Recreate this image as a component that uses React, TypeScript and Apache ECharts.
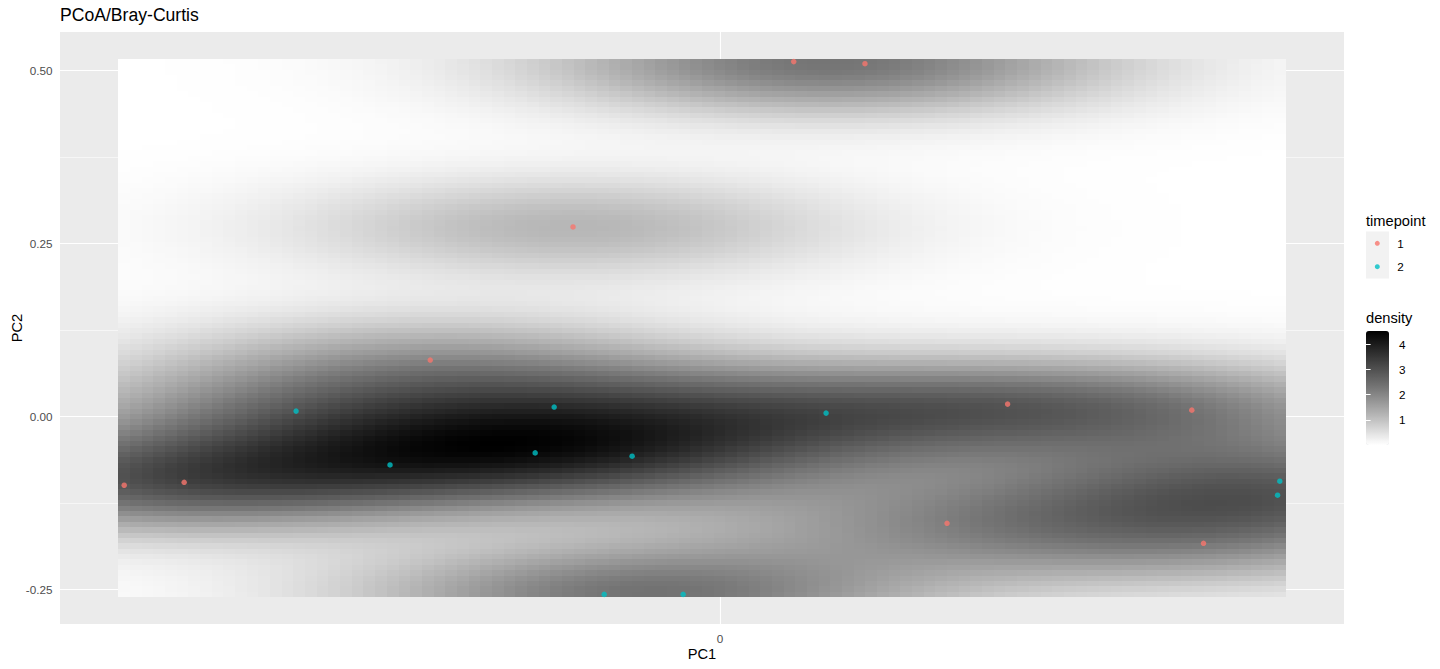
import React, { useEffect, useRef } from 'react';
import * as echarts from 'echarts';

// ---- data ----
const TITLE = 'PCoA/Bray-Curtis';
const X_NAME = 'PC1';
const Y_NAME = 'PC2';
const timepoints = ['1', '2'];
const pc1Time1 = [-0.4015, -0.3611, -0.1953, -0.0991, 0.0496, 0.0976, 0.1937, 0.3178, 0.1529, 0.3257];
const pc2Time1 = [-0.0995, -0.0952, 0.0815, 0.274, 0.513, 0.51, 0.0178, 0.0091, -0.1545, -0.1834];
const pc1Time2 = [-0.2857, -0.2224, -0.1118, -0.1246, -0.0593, 0.0714, 0.3771, 0.3756, -0.0781, -0.0249];
const pc2Time2 = [0.0077, -0.0701, 0.0135, -0.0527, -0.0575, 0.0048, -0.0937, -0.1139, -0.2573, -0.2573];
const xTicks = [0];
const yTicks = [-0.25, 0, 0.25, 0.5];
const yMinorTicks = [-0.125, 0.125, 0.375];
const densityTicks = [1, 2, 3, 4];
const GRID_N = 100;

// ---- styles ----
const FONT = 'Liberation Sans, Arial, Helvetica, sans-serif';
const POINT_COLORS = ['#F8766D', '#00BFC4'];
const GRAY_STOPS = ['#ffffff', '#b9b9b9', '#777777', '#3c3c3c', '#000000'];

// ---- stat_density_2d (MASS::kde2d with bandwidth.nrd) ----
function quantile7(sorted: number[], p: number) {
  const h = (sorted.length - 1) * p;
  const lo = Math.floor(h);
  const hi = Math.min(lo + 1, sorted.length - 1);
  return sorted[lo] + (h - lo) * (sorted[hi] - sorted[lo]);
}
function bandwidthNrd(v: number[]) {
  const s = [...v].sort((a, b) => a - b);
  const n = v.length;
  const mean = v.reduce((a, b) => a + b, 0) / n;
  const sd = Math.sqrt(v.reduce((a, b) => a + (b - mean) * (b - mean), 0) / (n - 1));
  const iqr = quantile7(s, 0.75) - quantile7(s, 0.25);
  return 4 * 1.06 * Math.min(sd, iqr / 1.34) * Math.pow(n, -0.2);
}
function kde2d(xs: number[], ys: number[], n: number) {
  const hx = bandwidthNrd(xs) / 4;
  const hy = bandwidthNrd(ys) / 4;
  const xmin = Math.min(...xs), xmax = Math.max(...xs);
  const ymin = Math.min(...ys), ymax = Math.max(...ys);
  const gx = Array.from({ length: n }, (_, i) => xmin + ((xmax - xmin) * i) / (n - 1));
  const gy = Array.from({ length: n }, (_, i) => ymin + ((ymax - ymin) * i) / (n - 1));
  const dn = (z: number) => Math.exp(-0.5 * z * z) / Math.sqrt(2 * Math.PI);
  const N = xs.length;
  const cells: number[][] = [];
  for (let i = 0; i < n; i++) {
    for (let j = 0; j < n; j++) {
      let s = 0;
      for (let k = 0; k < N; k++) s += dn((gx[i] - xs[k]) / hx) * dn((gy[j] - ys[k]) / hy);
      cells.push([gx[i], gy[j], s / (N * hx * hy)]);
    }
  }
  return {
    cells,
    cellW: (xmax - xmin) / (n - 1),
    cellH: (ymax - ymin) / (n - 1),
    xmin, xmax, ymin, ymax,
  };
}

export default function App() {
  const ref = useRef<HTMLDivElement>(null);
  useEffect(() => {
    const chart = echarts.init(ref.current!, null, { renderer: 'svg' });
    const allX = [...pc1Time1, ...pc1Time2];
    const allY = [...pc2Time1, ...pc2Time2];
    const k = kde2d(allX, allY, GRID_N);
    const dens = k.cells.map((c) => c[2]);
    const dMin = Math.min(...dens);
    const dMax = Math.max(...dens);

    // panel limits: raster extent + 5% expansion (ggplot default)
    const rx0 = k.xmin - k.cellW / 2, rx1 = k.xmax + k.cellW / 2;
    const ry0 = k.ymin - k.cellH / 2, ry1 = k.ymax + k.cellH / 2;
    const ex = (rx1 - rx0) * 0.05, ey = (ry1 - ry0) * 0.05;
    const xLim = [rx0 - ex, rx1 + ex];
    const yLim = [ry0 - ey, ry1 + ey];

    const axisText = { color: '#4D4D4D', fontSize: 11.7, fontFamily: FONT };
    const tickStyle = { color: '#333333', width: 1.07 };

    const option: any = {
      animation: false,
      backgroundColor: '#ffffff',
      textStyle: { fontFamily: FONT },
      title: [
        { text: TITLE, left: 60, top: 6, padding: 0, textStyle: { fontSize: 17.6, fontWeight: 'normal', color: '#000000', fontFamily: FONT } },
        { text: 'timepoint', left: 1366, top: 213, padding: 0, textStyle: { fontSize: 14.67, fontWeight: 'normal', color: '#000000', fontFamily: FONT } },
        { text: 'density', left: 1366, top: 310.5, padding: 0, textStyle: { fontSize: 14.67, fontWeight: 'normal', color: '#000000', fontFamily: FONT } },
      ],
      grid: [
        { left: 60, top: 32, width: 1284, height: 592, show: true, backgroundColor: '#EBEBEB', borderWidth: 0, containLabel: false, outerBoundsMode: 'none' },
        { left: 1366, top: 331, width: 23, height: 114, show: false, containLabel: false, outerBoundsMode: 'none' },
      ],
      xAxis: [
        {
          type: 'value', gridIndex: 0, min: xLim[0], max: xLim[1],
          name: X_NAME, nameLocation: 'middle', nameGap: 22, nameMoveOverlap: false,
          nameTextStyle: { fontSize: 14.67, color: '#000000', fontFamily: FONT },
          axisLine: { show: false },
          axisTick: { show: true, length: 4, lineStyle: tickStyle, customValues: xTicks },
          axisLabel: { ...axisText, margin: 8, customValues: xTicks, formatter: (v: number) => String(v) },
          splitLine: { show: true, lineStyle: { color: '#ffffff', width: 1.1 } },
        },
        { type: 'value', gridIndex: 1, min: 0, max: 1, show: false },
      ],
      yAxis: [
        {
          type: 'value', gridIndex: 0, min: yLim[0], max: yLim[1],
          name: Y_NAME, nameLocation: 'middle', nameGap: 36, nameRotate: 90, nameMoveOverlap: false,
          nameTextStyle: { fontSize: 14.67, color: '#000000', fontFamily: FONT },
          axisLine: { show: false },
          axisTick: { show: true, length: 4, lineStyle: tickStyle, customValues: yTicks },
          axisLabel: { ...axisText, margin: 7.5, customValues: yTicks, formatter: (v: number) => v.toFixed(2) },
          splitLine: { show: true, lineStyle: { color: '#ffffff', width: 1.1 } },
        },
        {
          type: 'value', gridIndex: 0, min: yLim[0], max: yLim[1], position: 'right',
          axisLine: { show: false },
          axisTick: { show: false, customValues: yMinorTicks },
          axisLabel: { show: false, customValues: yMinorTicks },
          splitLine: { show: true, lineStyle: { color: '#ffffff', width: 0.55 } },
        },
        {
          type: 'value', gridIndex: 1, min: dMin, max: dMax, position: 'right', z: 10,
          axisLine: { show: false },
          axisTick: { show: true, inside: true, length: 4.6, lineStyle: { color: '#ffffff', width: 1 }, customValues: densityTicks },
          axisLabel: { show: true, margin: 10, color: '#000000', fontSize: 11.7, fontFamily: FONT, customValues: densityTicks },
          splitLine: { show: false },
        },
        {
          type: 'value', gridIndex: 1, min: dMin, max: dMax, position: 'left', z: 10,
          axisLine: { show: false },
          axisTick: { show: true, inside: true, length: 4.6, lineStyle: { color: '#ffffff', width: 1 }, customValues: densityTicks },
          axisLabel: { show: false, customValues: densityTicks },
          splitLine: { show: false },
        },
      ],
      visualMap: {
        type: 'continuous',
        seriesIndex: 0,
        dimension: 2,
        min: dMin,
        max: dMax,
        calculable: false,
        hoverLink: false,
        orient: 'vertical',
        left: 1366,
        top: 331,
        itemWidth: 23,
        itemHeight: 114,
        padding: 0,
        text: null,
        showLabel: false,
        inRange: { color: GRAY_STOPS },
      },
      legend: {
        data: timepoints,
        orient: 'vertical',
        left: 1374.8,
        top: 231.6,
        padding: 0,
        itemWidth: 5,
        itemHeight: 5,
        itemGap: 0,
        icon: 'circle',
        selectedMode: false,
        textStyle: { fontSize: 11.7, color: '#000000', fontFamily: FONT, lineHeight: 23.4, padding: [0, 0, 0, 12.5] },
      },
      graphic: [
        { type: 'rect', left: 1366, top: 231.6, z: -1, shape: { width: 23, height: 46.8 }, style: { fill: '#F2F2F2' } },
      ],
      series: [
        {
          type: 'custom',
          name: 'density',
          xAxisIndex: 0,
          yAxisIndex: 0,
          z: 2,
          silent: true,
          progressive: 0,
          data: k.cells,
          encode: { x: 0, y: 1 },
          renderItem: (params: any, api: any) => {
            const x = api.value(0), y = api.value(1);
            const p0 = api.coord([x - k.cellW / 2, y + k.cellH / 2]);
            const p1 = api.coord([x + k.cellW / 2, y - k.cellH / 2]);
            const x0 = Math.round(p0[0]), x1 = Math.round(p1[0]);
            const y0 = Math.round(p0[1]), y1 = Math.round(p1[1]);
            return {
              type: 'rect',
              shape: { x: x0, y: y0, width: x1 - x0, height: y1 - y0 },
              style: { fill: api.visual('color') },
            };
          },
        },
        {
          type: 'scatter',
          name: timepoints[0],
          xAxisIndex: 0,
          yAxisIndex: 0,
          z: 5,
          symbol: 'circle',
          symbolSize: 5.5,
          itemStyle: { color: POINT_COLORS[0] },
          data: pc1Time1.map((v, i) => [v, pc2Time1[i]]),
        },
        {
          type: 'scatter',
          name: timepoints[1],
          xAxisIndex: 0,
          yAxisIndex: 0,
          z: 5,
          symbol: 'circle',
          symbolSize: 5.5,
          itemStyle: { color: POINT_COLORS[1] },
          data: pc1Time2.map((v, i) => [v, pc2Time2[i]]),
        },
      ],
    };
    chart.setOption(option);
    return () => chart.dispose();
  }, []);
  return <div ref={ref} style={{ position: 'fixed', left: 0, top: 0, width: 1440, height: 669 }} />;
}
